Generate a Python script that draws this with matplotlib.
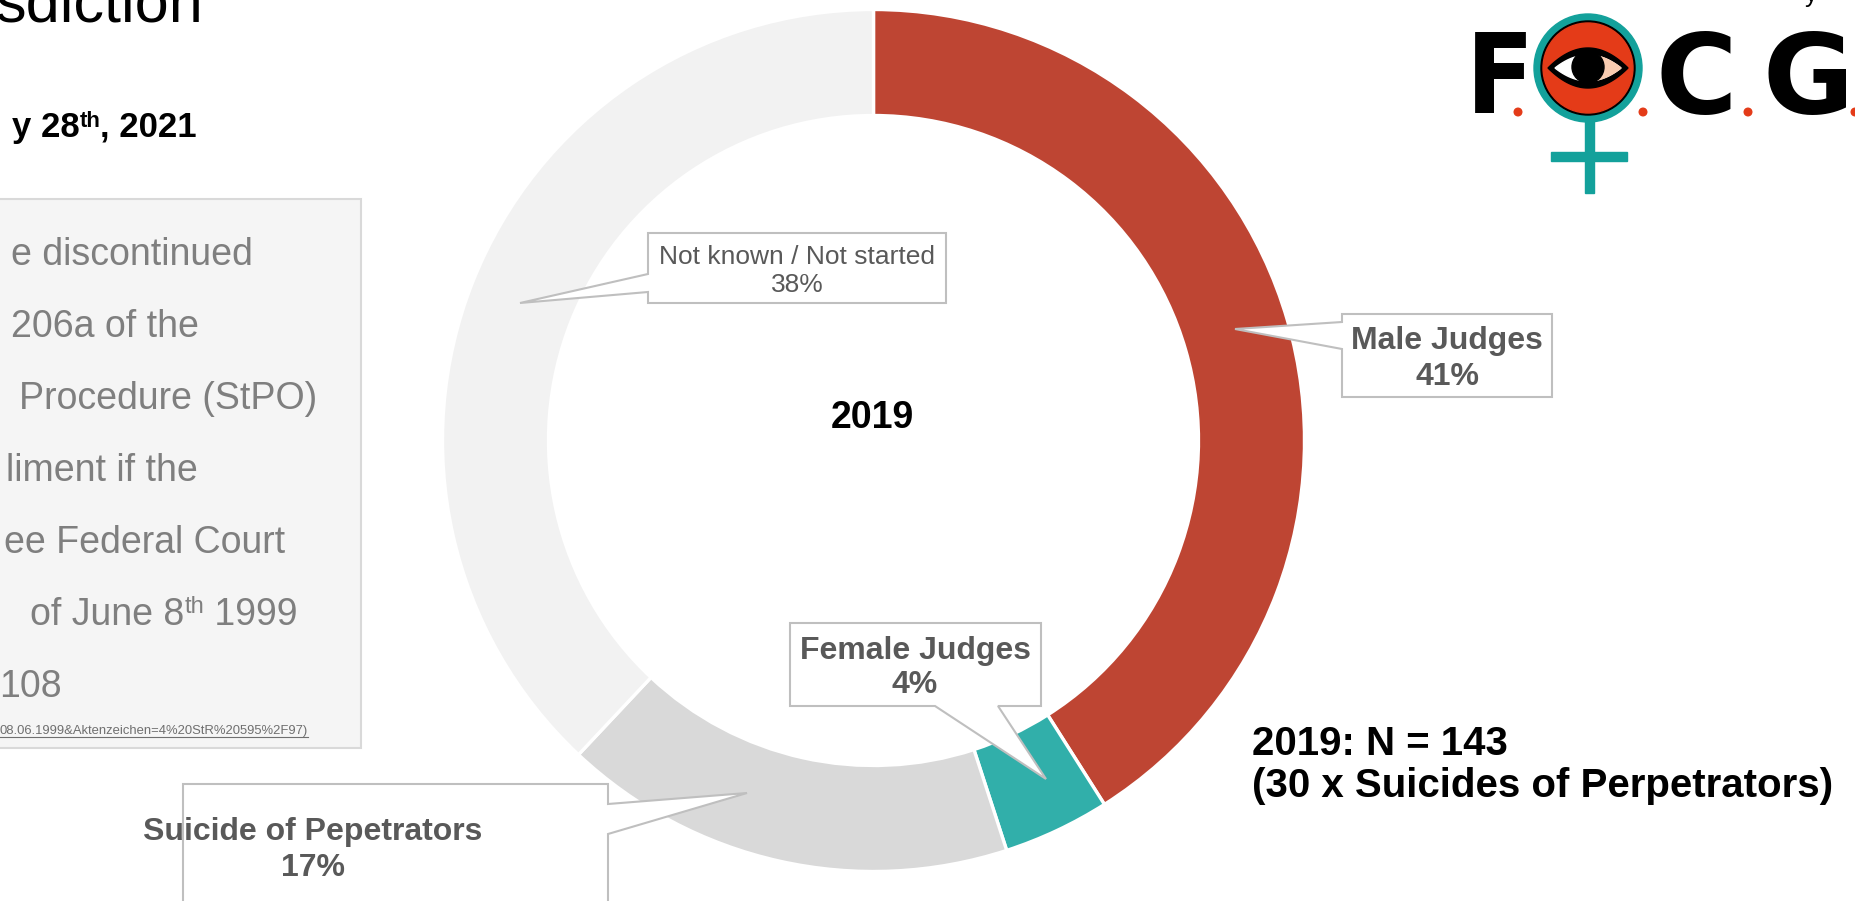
import numpy as np
import matplotlib.pyplot as plt
from matplotlib.patches import Polygon, Rectangle, Circle

W, H = 1855, 901

# chart data
labels = ['Male Judges', 'Female Judges', 'Suicide of Pepetrators', 'Not known / Not started']
shares = [41, 4, 17, 38]
colors = ['#BE4533', '#31AFAA', '#D9D9D9', '#F2F2F2']
year = '2019'
total_n = 143
suicides = 30

# text of the (cropped) slide
box_lines = ['e discontinued', '206a of the', 'Procedure (StPO)', 'liment if the',
             'ee Federal Court', ('of June 8', 'th', ' 1999'), '108']
box_right = [253, 199, 317, 198, 285, 298, 62]
url_text = '08.06.1999&Aktenzeichen=4%20StR%20595%2F97)'

plt.rcParams['font.family'] = ['Liberation Sans', 'DejaVu Sans']

fig = plt.figure(figsize=(W / 100, H / 100), dpi=100)
ax = fig.add_axes([0, 0, 1, 1])


def Y(y):
    # pixel row (from top) -> data y
    return H - y


ax.pie(shares, colors=colors, startangle=90, counterclock=False,
       radius=431, center=(873.5, Y(440.5)),
       wedgeprops=dict(width=106, edgecolor='white', linewidth=2.4))
ax.set_xlim(0, W)
ax.set_ylim(0, H)
ax.set_aspect('equal')
ax.axis('off')
renderer = fig.canvas.get_renderer()


def sup_line(parts, right, base, size, color, weight='normal', rise=11, ssize=None):
    # draws main + superscript + main, right aligned
    main1, sup, main2 = parts
    ssize = ssize or size * 0.62
    t = ax.text(right, Y(base), main2, ha='right', va='baseline', fontsize=size,
                color=color, fontweight=weight, zorder=3)
    x = t.get_window_extent(renderer).x0
    t = ax.text(x, Y(base - rise), sup, ha='right', va='baseline', fontsize=ssize,
                color=color, fontweight=weight, zorder=3)
    x = t.get_window_extent(renderer).x0
    ax.text(x, Y(base), main1, ha='right', va='baseline', fontsize=size,
            color=color, fontweight=weight, zorder=3)


# title pieces
ax.text(203, Y(21), 'sdiction', ha='right', va='baseline', fontsize=44, color='black')
sup_line(('y 28', 'th', ', 2021'), 197, 137, 25, 'black', 'bold', rise=10, ssize=16)

# grey info box
ax.add_patch(Rectangle((-5, Y(748)), 366, 549, fc='#F5F5F5', ec='#D9D9D9', lw=1.5, zorder=2))
grey = '#7F7F7F'
for i, (line, r) in enumerate(zip(box_lines, box_right)):
    base = 265 + 72 * i
    if isinstance(line, tuple):
        sup_line(line, r, base, 27, grey, rise=12, ssize=17)
    else:
        ax.text(r, Y(base), line, ha='right', va='baseline', fontsize=27, color=grey, zorder=3)
t = ax.text(308, Y(734), url_text, ha='right', va='baseline', fontsize=9.4, color='#6F6F6F', zorder=3)
x0 = t.get_window_extent(renderer).x0
ax.plot([x0, 308], [Y(737), Y(737)], color='#6F6F6F', lw=0.8, zorder=3)


def callout(box, tip, side, a, b):
    x0, y0, x1, y1 = box
    if side == 'left':
        pts = [(x0, y0), (x1, y0), (x1, y1), (x0, y1), (x0, b), tip, (x0, a)]
    elif side == 'right':
        pts = [(x0, y0), (x1, y0), (x1, a), tip, (x1, b), (x1, y1), (x0, y1)]
    else:
        pts = [(x0, y0), (x1, y0), (x1, y1), (b, y1), tip, (a, y1), (x0, y1)]
    ax.add_patch(Polygon([(x, Y(y)) for x, y in pts], closed=True, fc='white',
                         ec='#BFBFBF', lw=1.5, zorder=5))


lab = '#595959'
callout((1342, 314, 1552, 397), (1235, 329), 'left', 322, 349)
ax.text(1447, Y(359), f'{labels[0]}\n{shares[0]}%', ha='center', va='center', fontsize=23,
        fontweight='bold', color=lab, linespacing=1.3, zorder=6)

callout((790, 623, 1041, 706), (1046, 779), 'bottom', 935, 998)
ax.text(915, Y(668), f'{labels[1]}\n{shares[1]}%', ha='center', va='center', fontsize=23,
        fontweight='bold', color=lab, linespacing=1.2, zorder=6)

callout((183, 784, 608, 960), (747, 793), 'right', 804, 834)
ax.text(313, Y(850), f'{labels[2]}\n{shares[2]}%', ha='center', va='center', fontsize=23,
        fontweight='bold', color=lab, linespacing=1.3, zorder=6)

callout((648, 233, 946, 303), (520, 303), 'left', 274, 292)
ax.text(797, Y(271), f'{labels[3]}\n{shares[3]}%', ha='center', va='center', fontsize=19,
        color=lab, linespacing=1.25, zorder=6)

# centre label and N note
ax.text(872, Y(418), year, ha='center', va='center', fontsize=27, fontweight='bold', color='black')
ax.text(1252, Y(755), f'{year}: N = {total_n}', ha='left', va='baseline', fontsize=29,
        fontweight='bold', color='black')
ax.text(1252, Y(797), f'({suicides} x Suicides of Perpetrators)', ha='left', va='baseline',
        fontsize=29, fontweight='bold', color='black')

# logo
teal, red = '#13A19B', '#E43B18'
ax.add_patch(Rectangle((1584.5, Y(193)), 9, 75, color=teal, zorder=3))
ax.add_patch(Rectangle((1551, Y(160.5)), 76, 9, color=teal, zorder=3))
ax.add_patch(Circle((1588, Y(68)), 54, color=teal, zorder=3))
ax.add_patch(Circle((1588, Y(68)), 47, color='black', zorder=3))
ax.add_patch(Circle((1588, Y(68)), 45, color=red, zorder=3))
s = np.linspace(-1, 1, 60)


def almond(w, h, lo=-1.0):
    ss = s[s >= lo]
    xs = np.concatenate([1588 + w * ss, 1588 + w * ss[::-1]])
    ys = np.concatenate([Y(68) + h * (1 - ss ** 2), Y(68) - h * (1 - ss[::-1] ** 2)])
    return np.column_stack([xs, ys])


ax.add_patch(Polygon(almond(40, 20), color='black', zorder=4))
ax.add_patch(Polygon(almond(33, 13), color='white', zorder=4))
ax.add_patch(Polygon(almond(33, 13, lo=0.15), color='#F8CBB0', zorder=4))
ax.add_patch(Circle((1588, Y(67)), 16, color='black', zorder=4))
for dx in [1518, 1643, 1748, 1855]:
    ax.add_patch(Circle((dx, Y(112)), 3.8, color=red, zorder=3))
ax.text(1466, Y(113), 'F', ha='left', va='baseline', fontsize=80, fontweight='bold',
        fontstretch='condensed', family='DejaVu Sans', color='black')
ax.text(1696, Y(113), 'C', ha='center', va='baseline', fontsize=80, fontweight='bold',
        family='DejaVu Sans', color='black')
ax.text(1763, Y(113), 'G', ha='left', va='baseline', fontsize=80, fontweight='bold',
        family='DejaVu Sans', color='black')
ax.text(1805, Y(2), 'y', ha='left', va='baseline', fontsize=18, color='black')

fig.savefig('out.png', dpi=100)
